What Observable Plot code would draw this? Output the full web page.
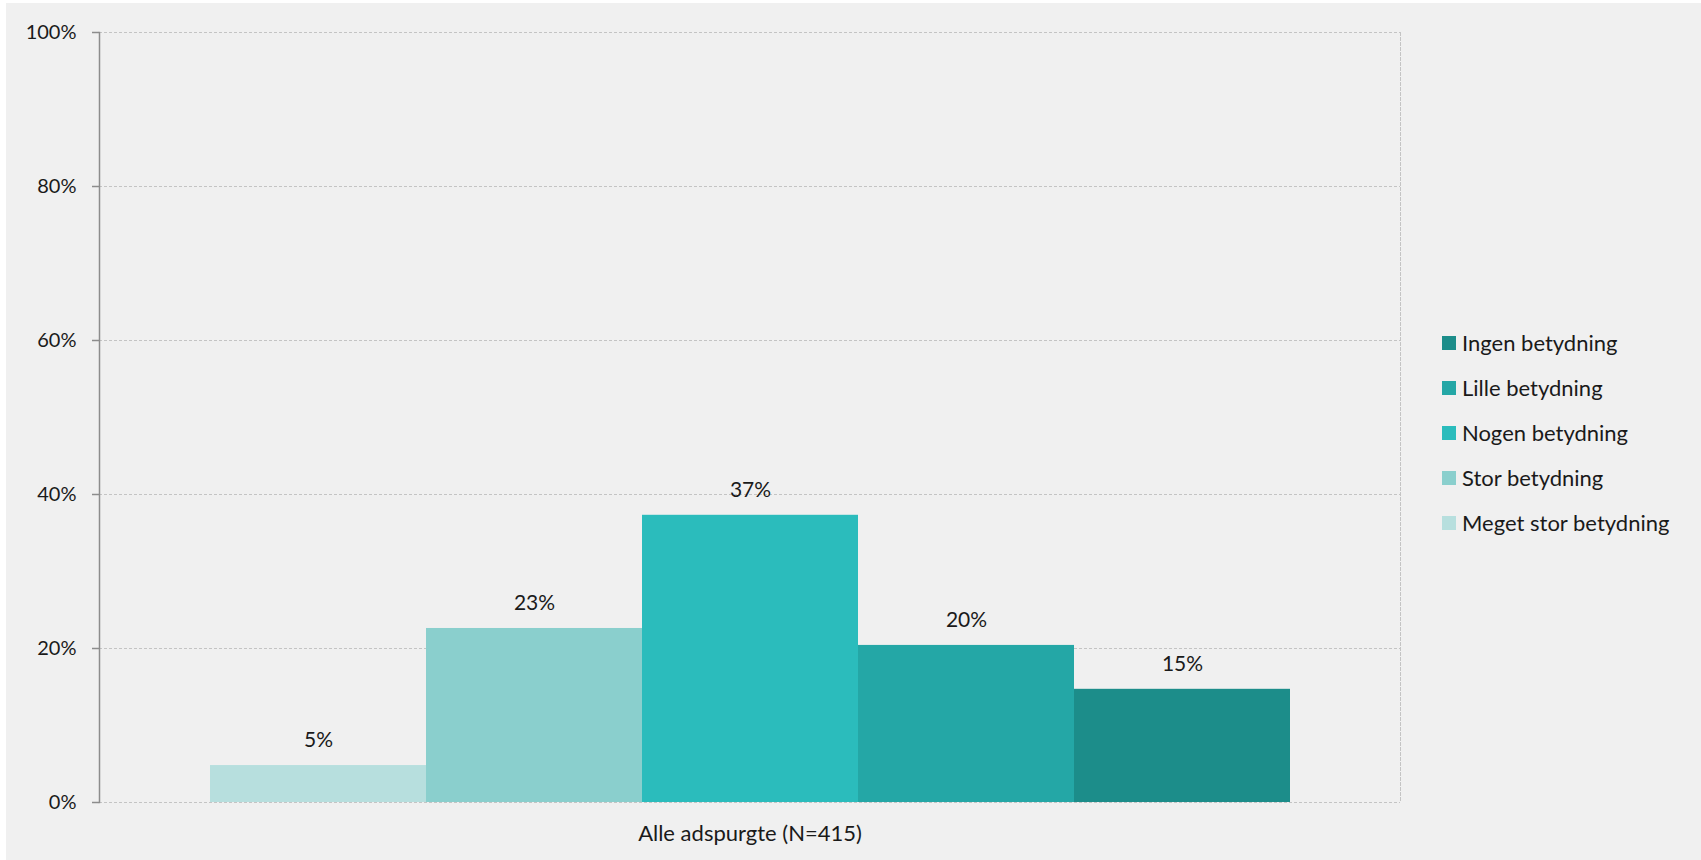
<!DOCTYPE html>
<html>
<head>
<meta charset="utf-8">
<script src="https://cdn.jsdelivr.net/npm/d3@7"></script>
<script src="https://cdn.jsdelivr.net/npm/@observablehq/plot@0.6"></script>
<style>
  html, body { margin: 0; padding: 0; background: #ffffff; }
  #bg { position: absolute; left: 6px; top: 3px; width: 1695px; height: 857px; background: #f0f0f0; }
  #chart { position: absolute; left: 0; top: 0; }
  #legend { position: absolute; left: 1442px; top: 320px; font-family: Lato, sans-serif; font-size: 22px; color: #1a1a1a; }
  .row { height: 45px; display: flex; align-items: center; }
  .sw { width: 14px; height: 14px; margin-right: 6px; flex: none; }
</style>
</head>
<body>
<div id="bg"></div>
<div id="chart"></div>
<div id="legend"></div>
<script>
const categories = ["Meget stor betydning", "Stor betydning", "Nogen betydning", "Lille betydning", "Ingen betydning"];
const values = [0.048, 0.226, 0.373, 0.204, 0.147];
const valueLabels = ["5%", "23%", "37%", "20%", "15%"];
const colors = ["#b7dfde", "#8acfcd", "#2bbcbc", "#24a7a6", "#1c8d8a"];
const groupLabel = "Alle adspurgte (N=415)";
const yTicks = [0, 0.2, 0.4, 0.6, 0.8, 1];
const legendOrder = ["Ingen betydning", "Lille betydning", "Nogen betydning", "Stor betydning", "Meget stor betydning"];

const data = categories.map((c, i) => ({cat: c, value: values[i], label: valueLabels[i]}));

const chart = Plot.plot({
  width: 1701,
  height: 860,
  marginLeft: 99,
  marginRight: 301,
  marginTop: 32,
  marginBottom: 58,
  style: {background: "transparent", fontFamily: "Lato, sans-serif", fontSize: "20px", color: "#1a1a1a"},
  x: {domain: categories, paddingInner: 0, paddingOuter: 0.5, axis: null},
  y: {domain: [0, 1], axis: null},
  color: {domain: categories, range: colors},
  marks: [
    Plot.ruleY(yTicks, {stroke: "#c4c4c4", strokeDasharray: "3,2", strokeWidth: 1}),
    Plot.frame({anchor: "right", stroke: "#c4c4c4", strokeDasharray: "3,2", strokeWidth: 1}),
    Plot.barY(data, {x: "cat", y: "value", fill: "cat"}),
    Plot.text(data, {x: "cat", y: "value", text: "label", dy: -25, fontSize: 21, fill: "#1a1a1a"}),
    Plot.axisY({ticks: yTicks, tickFormat: d3.format(".0%"), tickSize: 7, tickPadding: 16, stroke: "#8c8c8c", strokeWidth: 1.5, fontSize: 20, label: null}),
    Plot.frame({anchor: "left", stroke: "#8c8c8c", strokeWidth: 1.5}),
    Plot.text([groupLabel], {text: d => d, frameAnchor: "bottom", dy: 38, fontSize: 22, fill: "#1a1a1a"})
  ]
});
document.getElementById("chart").appendChild(chart);

const legend = document.getElementById("legend");
legendOrder.forEach(name => {
  const row = document.createElement("div");
  row.className = "row";
  const sw = document.createElement("div");
  sw.className = "sw";
  sw.style.background = colors[categories.indexOf(name)];
  const t = document.createElement("span");
  t.textContent = name;
  row.appendChild(sw);
  row.appendChild(t);
  legend.appendChild(row);
});
</script>
</body>
</html>
